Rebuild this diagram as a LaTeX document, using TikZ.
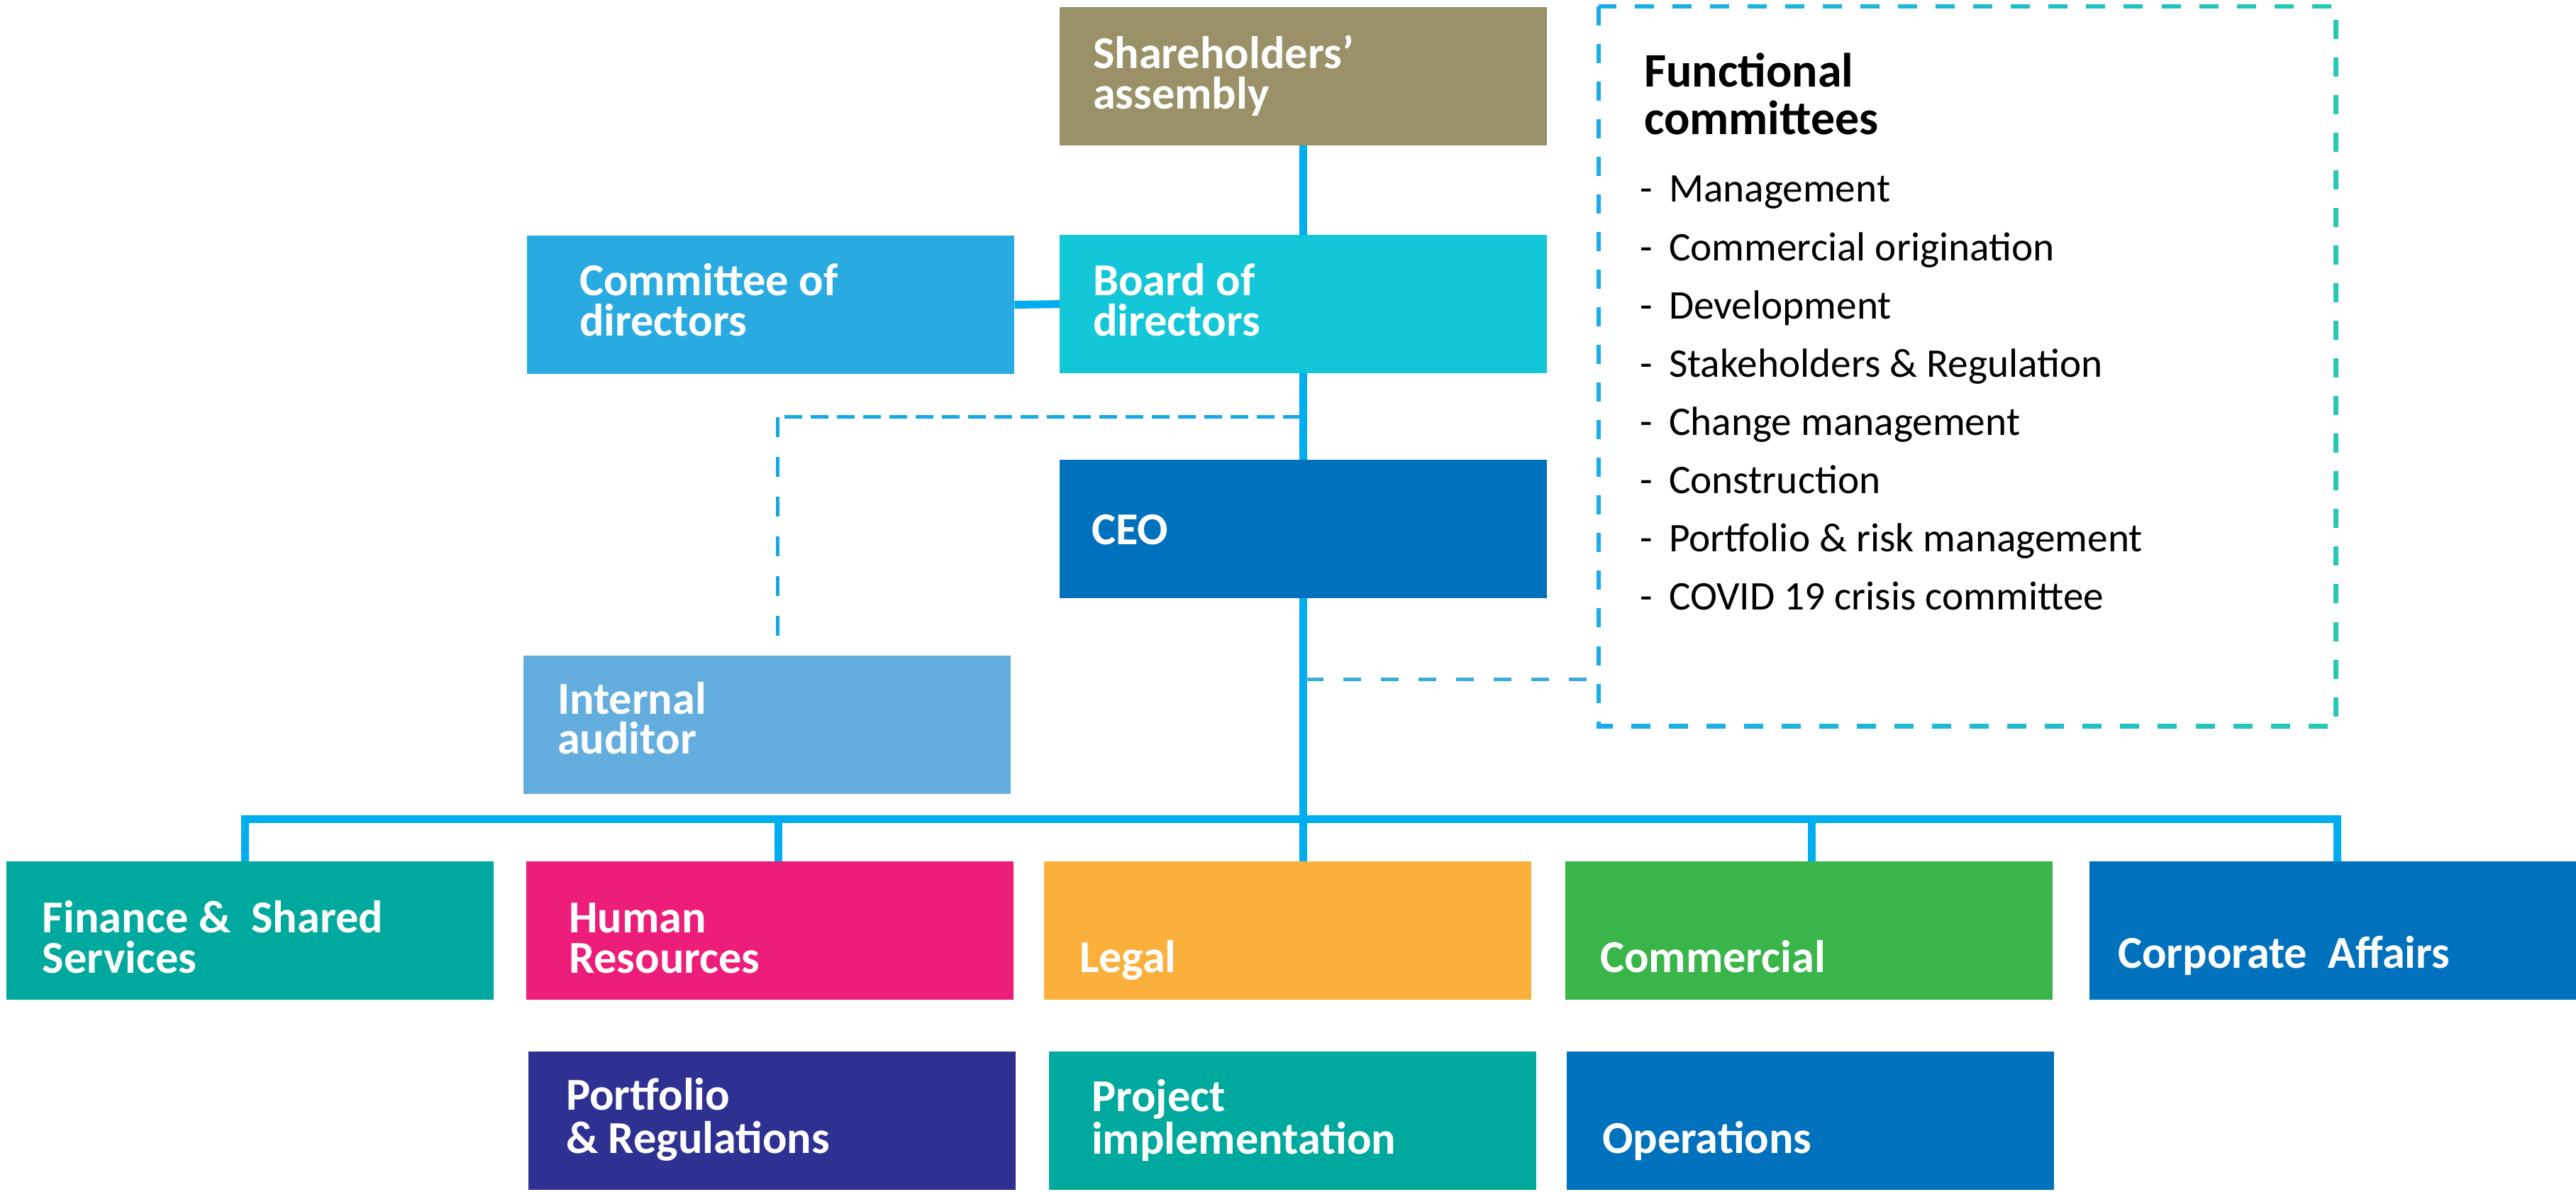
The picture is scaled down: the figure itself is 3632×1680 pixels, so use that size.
\documentclass[tikz,border=0pt]{standalone}
\usepackage{fontspec}
\setmainfont{Carlito}
\usetikzlibrary{calc}
\definecolor{cLine}{RGB}{0,174,239}
\definecolor{cSh}{RGB}{154,145,104}
\definecolor{cBd}{RGB}{19,198,216}
\definecolor{cCd}{RGB}{41,171,226}
\definecolor{cCeo}{RGB}{0,113,188}
\definecolor{cIa}{RGB}{99,174,223}
\definecolor{cTeal}{RGB}{0,169,157}
\definecolor{cHr}{RGB}{237,30,121}
\definecolor{cLegal}{RGB}{251,176,59}
\definecolor{cCom}{RGB}{57,181,74}
\definecolor{cBlue}{RGB}{0,113,188}
\definecolor{cPort}{RGB}{46,49,146}
\definecolor{cDash}{RGB}{22,168,228}
\definecolor{cDashB}{RGB}{58,170,220}
\definecolor{fcL}{RGB}{27,172,234}
\definecolor{fcR}{RGB}{38,200,178}
\newcommand\twoline[3]{\vtop{\baselineskip=#1\lineskiplimit=-\maxdimen\hbox{#2}\hbox{#3}}}
\newcommand\itm[1]{\hbox{\makebox[0.41cm][l]{-}#1}}
\begin{document}
\begin{tikzpicture}[x=0.01cm,y=-0.01cm,
  orgbox/.style={inner sep=0pt,outer sep=0pt,anchor=north west,minimum width=6.87cm,minimum height=1.95cm,draw=none},
  lbl/.style={anchor=base west,inner sep=0pt,outer sep=0pt,text=white,font=\bfseries\fontsize{18.3pt}{20pt}\selectfont},
  conn/.style={draw=cLine,line width=0.11cm},
  auddash/.style={draw=cDash,line width=0.05cm,dash pattern=on 0.25cm off 0.12cm},
  auddashv/.style={draw=cDash,line width=0.05cm,dash pattern=on 0.28cm off 0.28cm},
  fcdash/.style={draw=cDashB,line width=0.05cm,dash pattern=on 0.25cm off 0.28cm},
  boxdash/.style={line width=0.065cm,dash pattern=on 0.27cm off 0.26cm}
]
\useasboundingbox[fill=white] (0,0) rectangle (3632,1680);

% top boxes
\node[orgbox,fill=cSh] (sh) at (1494,10) {};
\node[orgbox,fill=cBd] (bd) at (1494,331) {};
\node[orgbox,fill=cCd] (cd) at (743,332) {};
\node[orgbox,fill=cCeo] (ceo) at (1494,648) {};
\node[orgbox,fill=cIa] (ia) at (738,924) {};
% row 1
\node[orgbox,fill=cTeal] (fin) at (9,1214) {};
\node[orgbox,fill=cHr] (hr) at (742,1214) {};
\node[orgbox,fill=cLegal] (legal) at (1472,1214) {};
\node[orgbox,fill=cCom] (com) at (2207,1214) {};
\node[orgbox,fill=cBlue] (corp) at (2946,1214) {};
% row 2
\node[orgbox,fill=cPort] (port) at (745,1482) {};
\node[orgbox,fill=cTeal] (proj) at (1479,1482) {};
\node[orgbox,fill=cBlue] (ops) at (2209,1482) {};

% labels
\node[lbl] (sh-t) at (1541,97) {\twoline{0.56cm}{Shareholders’}{assembly}};
\node[lbl] (bd-t) at (1541,417) {\twoline{0.56cm}{Board of}{directors}};
\node[lbl] (cd-t) at (817,417) {\twoline{0.56cm}{Committee of}{directors}};
\node[lbl] (ceo-t) at (1539,768) {CEO};
\node[lbl] (ia-t) at (786,1007) {\twoline{0.55cm}{Internal}{auditor}};
\node[lbl] (fin-t) at (60,1315) {\twoline{0.56cm}{Finance \& \ Shared}{Services}};
\node[lbl] (hr-t) at (802,1315) {\twoline{0.56cm}{Human}{Resources}};
\node[lbl] (legal-t) at (1522,1371) {Legal};
\node[lbl] (com-t) at (2256,1371) {Commercial};
\node[lbl] (corp-t) at (2986,1365) {Corporate \ Affairs};
\node[lbl] (port-t) at (798,1565) {\twoline{0.60cm}{Portfolio}{\& Regulations}};
\node[lbl] (proj-t) at (1539,1567) {\twoline{0.59cm}{Project}{implementation}};
\node[lbl] (ops-t) at (2259,1626) {Operations};

% functional committees box
\node[inner sep=0pt,outer sep=0pt,anchor=north west,minimum width=10.39cm,minimum height=10.14cm] (fc) at (2254,9) {};
\foreach \i in {0,...,19}{
  \pgfmathsetmacro\f{100*\i/19}
  \begin{scope}
    \clip (2240+\i*53.5,0) rectangle (2240+\i*53.5+54,1040);
    \draw[boxdash,draw={fcR!\f!fcL}] (fc.north west) rectangle (fc.south east);
  \end{scope}
}
\node[anchor=base west,inner sep=0pt,outer sep=0pt,font=\bfseries\fontsize{19.3pt}{22pt}\selectfont] (fc-title) at (2318,123) {\twoline{0.66cm}{Functional}{committees}};
\node[anchor=base west,inner sep=0pt,outer sep=0pt,font=\fontsize{16.3pt}{20pt}\selectfont] (fc-list) at (2312,285)
 {\vtop{\baselineskip=0.82cm\lineskiplimit=-\maxdimen
   \itm{Management}
   \itm{Commercial origination}
   \itm{Development}
   \itm{Stakeholders \& Regulation}
   \itm{Change management}
   \itm{Construction}
   \itm{Portfolio \& risk management}
   \itm{COVID 19 crisis committee}}};

% solid connectors
\draw[conn] (sh.south) -- (bd.north);
\draw[conn] (cd.east) -- (bd.west);
\draw[conn] (bd.south) -- (ceo.north);
\coordinate (bus) at (0,1155);
\coordinate (finTop) at ([xshift=-0.07cm]fin.north);
\coordinate (hrTop) at ([xshift=0.12cm]hr.north);
\coordinate (comTop) at ([xshift=0.04cm]com.north);
\coordinate (corpTop) at ([xshift=0.06cm]corp.north);
\draw[conn] (ceo.south) -- (ceo.south |- legal.north);
\draw[conn] (finTop) -- (finTop |- bus) -- (corpTop |- bus) -- (corpTop);
\draw[conn] (hrTop) -- (hrTop |- bus);
\draw[conn] (comTop) -- (comTop |- bus);

% dashed connectors
\coordinate (da) at (1834,588);
\coordinate (db) at (1096,588);
\draw[auddash] (da) -- (db);
\draw[auddashv] (db) -- (db |- ia.north);
\coordinate (dc) at (1841,958);
\draw[fcdash] (dc) -- (dc -| fc.west);
\end{tikzpicture}
\end{document}
